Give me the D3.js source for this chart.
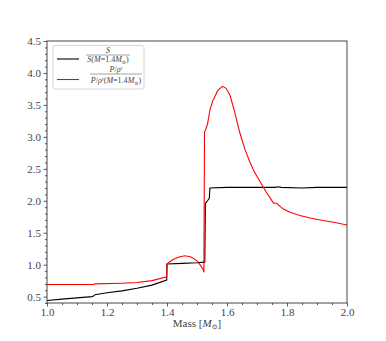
<!DOCTYPE html>
<html><head><meta charset="utf-8">
<script src="https://cdn.jsdelivr.net/npm/d3@7"></script>
<style>body{margin:0;background:#fff;} text{font-family:"Liberation Serif","DejaVu Serif",serif;}</style>
</head><body>
<svg id="c" width="386" height="341"></svg>
<script>
const massS = [1.0, 1.05, 1.10, 1.15, 1.155, 1.16, 1.20, 1.25, 1.30, 1.35, 1.399, 1.40, 1.45, 1.50, 1.523, 1.526, 1.528, 1.535, 1.541, 1.543, 1.60, 1.70, 1.76, 1.77, 1.78, 1.85, 1.90, 2.0];
const S = [0.44, 0.46, 0.48, 0.50, 0.51, 0.53, 0.56, 0.59, 0.63, 0.68, 0.76, 1.01, 1.02, 1.03, 1.04, 1.04, 1.96, 2.00, 2.04, 2.20, 2.21, 2.21, 2.21, 2.22, 2.21, 2.20, 2.21, 2.21];
const massP = [1.0, 1.10, 1.155, 1.16, 1.25, 1.30, 1.35, 1.399, 1.40, 1.405, 1.42, 1.44, 1.46, 1.48, 1.50, 1.51, 1.52, 1.523, 1.525, 1.528, 1.535, 1.543, 1.553, 1.57, 1.585, 1.597, 1.61, 1.625, 1.643, 1.66, 1.677, 1.69, 1.71, 1.73, 1.754, 1.76, 1.765, 1.788, 1.81, 1.843, 1.877, 1.92, 1.96, 2.0];
const P = [0.69, 0.69, 0.69, 0.70, 0.71, 0.72, 0.75, 0.81, 1.01, 1.03, 1.08, 1.12, 1.14, 1.12, 1.06, 1.00, 0.93, 0.88, 3.08, 3.10, 3.20, 3.42, 3.57, 3.73, 3.79, 3.76, 3.65, 3.40, 3.06, 2.80, 2.60, 2.46, 2.30, 2.14, 1.97, 1.96, 1.96, 1.87, 1.82, 1.77, 1.73, 1.69, 1.66, 1.62];
const xTicks = [1.0, 1.2, 1.4, 1.6, 1.8, 2.0];
const yTicks = [0.5, 1.0, 1.5, 2.0, 2.5, 3.0, 3.5, 4.0, 4.5];

const svg = d3.select("#c");
const L = 47, R = 347, T = 41, B = 303;
const x = d3.scaleLinear().domain([1.0, 2.0]).range([L, R]);
const y = d3.scaleLinear().domain([0.4, 4.5]).range([B, T]);
const axCol = "#333";
const txtCol = "#444";
const FF = "Liberation Serif, DejaVu Serif, serif";

const xMinor = d3.range(1.0, 2.0001, 0.05).filter(v => !xTicks.some(t => Math.abs(t - v) < 1e-6));
const yMinor = d3.range(0.4, 4.5001, 0.1).filter(v => !yTicks.some(t => Math.abs(t - v) < 1e-6));

const gx = svg.append("g").attr("transform", `translate(0,${B})`)
  .call(d3.axisBottom(x).tickValues(xTicks).tickFormat(d3.format(".1f")).tickSize(3.5).tickPadding(2));
const gxm = svg.append("g").attr("transform", `translate(0,${B})`)
  .call(d3.axisBottom(x).tickValues(xMinor).tickFormat("").tickSize(2));
const gy = svg.append("g").attr("transform", `translate(${L},0)`)
  .call(d3.axisLeft(y).tickValues(yTicks).tickFormat(d3.format(".1f")).tickSize(3.5).tickPadding(2.5));
const gym = svg.append("g").attr("transform", `translate(${L},0)`)
  .call(d3.axisLeft(y).tickValues(yMinor).tickFormat("").tickSize(2));
[gx, gxm, gy, gym].forEach(g => {
  g.select(".domain").remove();
  g.selectAll("line").attr("stroke", axCol).attr("stroke-width", 0.8);
  g.selectAll("text").attr("fill", txtCol).attr("font-size", 11).attr("font-family", FF);
});

const line = d3.line().x(d => x(d[0])).y(d => y(d[1]));
svg.append("clipPath").attr("id", "cp").append("rect").attr("x", L).attr("y", T).attr("width", R - L).attr("height", B - T);
svg.append("path").datum(massS.map((m, i) => [m, S[i]])).attr("d", line)
  .attr("fill", "none").attr("stroke", "#000").attr("stroke-width", 1.1).attr("clip-path", "url(#cp)");
svg.append("path").datum(massP.map((m, i) => [m, P[i]])).attr("d", line)
  .attr("fill", "none").attr("stroke", "#ff0000").attr("stroke-width", 1.1).attr("clip-path", "url(#cp)");

svg.append("rect").attr("x", L).attr("y", T).attr("width", R - L).attr("height", B - T)
  .attr("fill", "none").attr("stroke", axCol).attr("stroke-width", 0.9);

const xl = svg.append("text").attr("x", (L + R) / 2).attr("y", 327).attr("text-anchor", "middle")
  .attr("font-size", 11).attr("fill", txtCol);
xl.append("tspan").text("Mass [");
xl.append("tspan").attr("font-style", "italic").text("M");
xl.append("tspan").attr("font-size", 7).attr("dy", 2).text("⊙");
xl.append("tspan").attr("dy", -2).text("]");

const lg = svg.append("g");
lg.append("rect").attr("x", 53).attr("y", 45.5).attr("width", 91).attr("height", 43.5).attr("rx", 2)
  .attr("fill", "#fff").attr("fill-opacity", 0.8).attr("stroke", "#ccc").attr("stroke-width", 0.8);
lg.append("line").attr("x1", 57).attr("x2", 79).attr("y1", 59).attr("y2", 59).attr("stroke", "#000").attr("stroke-width", 1.1);
lg.append("line").attr("x1", 57).attr("x2", 79).attr("y1", 79.5).attr("y2", 79.5).attr("stroke", "#ff0000").attr("stroke-width", 1.1);

function frac(cx, yNum, yBar, yDen, num, den, barHalf) {
  const n = lg.append("text").attr("x", cx).attr("y", yNum).attr("text-anchor", "middle").attr("font-size", 8).attr("fill", txtCol);
  num(n);
  lg.append("line").attr("x1", cx - barHalf).attr("x2", cx + barHalf).attr("y1", yBar).attr("y2", yBar).attr("stroke", txtCol).attr("stroke-width", 0.5);
  const d = lg.append("text").attr("x", cx).attr("y", yDen).attr("text-anchor", "middle").attr("font-size", 8).attr("fill", txtCol);
  den(d);
}
function massPart(t, dy0) {
  t.append("tspan").attr("dy", dy0).text("(");
  t.append("tspan").attr("font-style", "italic").text("M");
  t.append("tspan").text("=1.4");
  t.append("tspan").attr("font-style", "italic").text("M");
  t.append("tspan").attr("font-size", 5).attr("dy", 1.5).text("⊙");
  t.append("tspan").attr("dy", -1.5).text(")");
}
frac(108, 53, 55, 62,
  t => t.append("tspan").attr("font-style", "italic").text("S"),
  t => { t.append("tspan").attr("font-style", "italic").text("S"); massPart(t, 0); }, 22);
function pr(t) {
  t.append("tspan").attr("font-style", "italic").text("P");
  t.append("tspan").text("/");
  t.append("tspan").attr("font-style", "italic").text("ρ");
  t.append("tspan").attr("font-style", "italic").attr("font-size", 5).attr("dy", -3).text("γ");
}
frac(116, 72, 74, 83,
  t => { pr(t); },
  t => { pr(t); massPart(t, 3); }, 26);
</script>
</body></html>
